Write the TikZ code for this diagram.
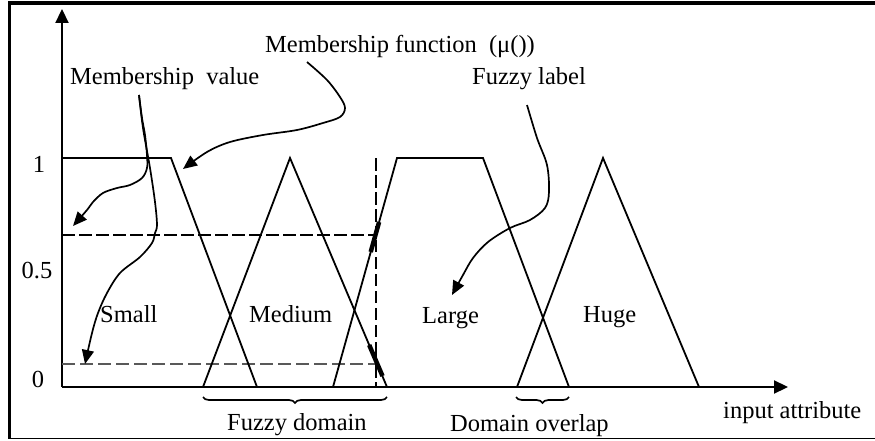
\documentclass[tikz,border=0pt]{standalone}
\usepackage{fontspec}
\setmainfont{Liberation Serif}
\usetikzlibrary{arrows.meta,decorations.pathreplacing}
\tikzset{
  mf/.style={line width=1.8pt, line join=miter},
  axisline/.style={line width=2.2pt, -{Triangle[length=14pt,width=13pt]}},
  curvearrow/.style={line width=1.7pt, -{Triangle[length=14pt,width=12pt]}},
  thickmark/.style={line width=4.5pt},
  lbl/.style={inner sep=0pt, anchor=base west, font=\fontsize{24.5}{28}\selectfont},
  bigdash/.style={line width=2.8pt, dash pattern=on 13pt off 4pt},
  thindash/.style={line width=1.3pt, dash pattern=on 13pt off 5pt, black!65},
  bracestyle/.style={line width=1.7pt, decorate, decoration={brace, mirror, amplitude=6pt}},
}
\begin{document}
\begin{tikzpicture}[x=1pt, y=-1pt]
\useasboundingbox (0,0) rectangle (875,441);
% frame
\draw[line width=3.5pt] (8,3) -- (875,3);
\draw[line width=3pt] (9.5,1.5) -- (9.5,439);
\draw[line width=1.5pt] (8,438.5) -- (875,438.5);
% axes
\coordinate (O) at (62,387);
\coordinate (ytop) at (62,9);
\coordinate (xend) at (788,387);
\draw[axisline] (O) -- (ytop);
\draw[axisline] (O) -- (xend);
% tick labels
\node[lbl, anchor=base] (one) at (39,172) {1};
\node[lbl, anchor=base] (half) at (37,278) {0.5};
\node[lbl, anchor=base] (zero) at (38,387) {0};
% dashed guide lines
\draw[bigdash] (62,235) -- (376,235);
\draw[thindash] (62,364) -- (376,364);
\draw[bigdash] (376,158) -- (376,240);
\draw[line width=1.3pt, dash pattern=on 12pt off 5pt] (376,240) -- (376,348);
\draw[bigdash] (376,348) -- (376,387);
% membership functions
\draw[mf] (62,158) -- (171,158) -- (257,387);
\draw[mf] (203,387) -- (290,158) -- (387,387);
\draw[mf] (333,387) -- (397,158) -- (483,158) -- (569,387);
\draw[mf] (517,387) -- (603,158) -- (699,387);
% thick marks
\draw[thickmark] (370.7,252) -- (379.1,222);
\draw[thickmark] (369.2,345) -- (382.5,376);
% fuzzy set labels
\node[lbl] (small) at (100,322) {Small};
\node[lbl] (medium) at (249,322) {Medium};
\node[lbl] (large) at (422,323) {Large};
\node[lbl] (huge) at (583,322) {Huge};
% top labels
\node[lbl] (mv) at (70,85) {Membership\ \ value};
\node[lbl] (mfun) at (265,53) {Membership function\ \ (μ())};
\node[lbl] (fl) at (472,85) {Fuzzy\ label};
% curved arrows
\coordinate (mvs) at (139,95);
\coordinate (mfs) at (307,62);
\coordinate (fls) at (527,105);
\draw[curvearrow] plot[smooth, tension=0.55] coordinates {(mvs) (142,118) (145,135) (147,155) (147,168) (142,178) (130,185) (117,188) (103,193) (93,202) (87,210) (73,226)};
\draw[curvearrow] plot[smooth, tension=0.55] coordinates {(mvs) (143,128) (150,168) (155,202) (157,225) (155,233) (152,243) (140,257) (120,273) (107,293) (98,313) (92,333) (85,364)};
\draw[curvearrow] plot[smooth, tension=0.55] coordinates {(mfs) (327,80) (340,97) (345,108) (340,117) (323,123) (297,130) (263,135) (230,142) (207,152) (183,169)};
\draw[curvearrow] plot[smooth, tension=0.55] coordinates {(fls) (537,138) (547,165) (549,192) (545,208) (530,220) (510,228) (488,242) (473,258) (463,275) (452,295)};
% braces
\draw[bracestyle] (203,397) -- (387,397);
\draw[bracestyle] (516,397) -- (569,397);
% bottom labels
\node[lbl] (fd) at (227,430) {Fuzzy domain};
\node[lbl] (dov) at (450,431) {Domain overlap};
\node[lbl] (ia) at (723,418) {input attribute};
\end{tikzpicture}
\end{document}
